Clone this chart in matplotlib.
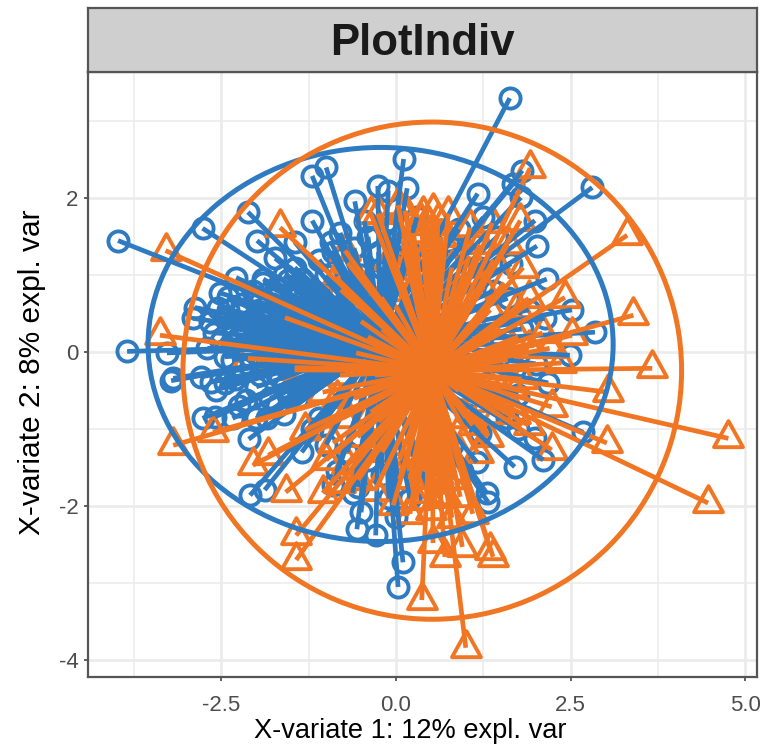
import matplotlib
matplotlib.use("Agg")
import matplotlib.pyplot as plt
from matplotlib.patches import Ellipse
from matplotlib.markers import MarkerStyle
from matplotlib.path import Path

plt.rcParams['font.family'] = ['Liberation Sans', 'DejaVu Sans']

title = "PlotIndiv"
x_label = "X-variate 1: 12% expl. var"
y_label = "X-variate 2: 8% expl. var"

x_ticks = [-2.5, 0, 2.5, 5]
x_tick_labels = ["-2.5", "0.0", "2.5", "5.0"]
x_minor = [-3.75, -1.25, 1.25, 3.75]
y_ticks = [-4, -2, 0, 2]
y_tick_labels = ["-4", "-2", "0", "2"]
y_minor = [-3, -1, 1, 3]

blue_center = (-0.22, 0.10)
blue_radii = (3.33, 2.56)
orange_center = (0.52, -0.24)
orange_radii = (3.57, 3.23)

blue_pts = [
    (1.63, 3.30), (-3.98, 1.45), (-3.85, 0.01), (0.11, 2.51), (-1.00, 2.40), (-1.20, 2.29),
    (-0.59, 1.96), (-0.26, 2.16), (-0.11, 2.10), (0.16, 2.13), (-2.77, 1.61), (-2.12, 1.82),
    (-1.99, 1.45), (-1.20, 1.71), (1.17, 2.06), (2.81, 2.14), (1.81, 2.36), (1.68, 2.19),
    (1.79, 2.01), (1.99, 1.71), (2.02, 1.38), (2.16, 0.95), (2.85, 0.26), (2.52, 0.55),
    (2.13, 0.44), (2.49, -0.04), (1.70, -1.49), (2.11, -1.40), (1.99, -1.12), (2.68, -1.04),
    (1.30, -1.83), (1.32, -1.95), (1.16, -1.43), (1.59, -0.86), (2.18, -0.40), (0.03, -3.05),
    (0.10, -2.73), (-0.29, -2.38), (-0.56, -2.30), (-0.50, -2.08), (0.0, -2.14), (-0.62, -1.83),
    (0.03, -1.70), (-0.90, -1.73), (-2.09, -1.86), (-1.88, -1.79), (-2.11, -1.13), (-2.77, -0.86),
    (-2.59, -0.84), (-2.34, -0.86), (-2.00, -0.86), (-3.19, -0.34), (-3.22, -0.37), (-2.79, -0.32),
    (-2.58, -0.49), (-2.65, -0.39), (-3.28, -0.01), (-2.45, -0.06), (-2.88, 0.58), (-2.91, 0.44),
    (-2.66, 0.39), (-2.29, 0.97), (-2.52, 0.77), (-1.91, 0.90), (-2.26, 0.19), (-1.73, 1.22),
    (-1.45, 1.43), (-0.93, 1.43), (-2.40, 0.72), (-2.20, 0.62), (-2.05, 0.80), (-1.85, 0.60),
    (-1.70, 0.85), (-1.60, 1.00), (-1.50, 0.70), (-1.35, 0.95), (-1.20, 0.80), (-2.10, 0.40),
    (-1.90, 0.30), (-1.70, 0.40), (-1.50, 0.30), (-2.30, 0.30), (-2.00, 0.15), (-1.80, 0.10),
    (-1.60, 0.15), (-1.30, 0.45), (-1.10, 0.60), (-1.00, 1.00), (-0.90, 1.30), (-0.75, 1.10),
    (-0.60, 1.35), (-0.50, 1.00), (-0.40, 1.50), (-0.25, 1.30), (-0.10, 1.60), (0.05, 1.50),
    (0.20, 1.30), (0.40, 1.20), (0.60, 1.20), (0.90, 1.60), (1.00, 1.30), (1.20, 1.10),
    (1.40, 0.80), (1.60, 0.70), (1.80, 0.30), (1.50, 0.10), (1.70, -0.20), (1.30, -0.40),
    (1.50, -0.70), (1.00, -0.80), (0.80, -1.20), (0.60, -1.40), (0.30, -1.50), (0.20, -1.90),
    (-0.20, -1.60), (-0.40, -1.40), (-0.70, -1.30), (-1.00, -1.20), (-1.20, -1.00), (-1.35, -1.30),
    (-1.60, -0.80), (-1.80, -0.60), (-2.00, -0.45), (-1.40, -0.60), (-1.10, -0.30), (-2.20, -0.20),
    (-1.70, -0.30), (-1.30, -0.10), (-2.70, 0.05), (-2.50, 0.15), (-1.55, 0.94), (-1.75, 0.75),
    (-2.45, 0.45), (-2.25, 0.50), (-2.15, 0.25), (-1.95, 0.48), (-1.80, 0.45), (-2.55, 0.58),
    (-2.35, -0.10), (-2.10, -0.05), (-1.90, -0.12), (-2.15, -0.62), (-1.85, -0.85), (-1.55, -0.55),
    (-1.65, -0.10), (-1.50, 0.05), (-1.25, 0.20), (-1.15, 0.35), (-1.05, 0.15), (-0.85, 0.75),
    (-0.65, 0.85), (-0.35, 0.95), (-0.20, 1.10), (0.00, 1.05), (-1.45, 1.10), (-1.10, 1.20),
    (-0.80, 1.55), (-0.45, 1.70), (0.30, 1.75), (0.75, 1.45), (1.45, 1.50), (1.25, 1.75),
    (1.65, 1.15), (-0.85, -1.55), (-1.10, -0.85), (-0.55, -1.75), (-0.10, -1.90), (0.45, -1.75),
    (0.95, -1.55), (1.20, -1.05), (1.75, -0.55), (2.00, -0.15), (1.90, 0.55), (1.75, -1.00),
    (-2.60, 0.25), (-2.40, 0.55), (-2.20, 0.35), (-2.35, 0.10), (-1.95, 0.65), (-1.65, 0.60),
    (-1.40, 0.55), (-1.90, 0.95), (-1.45, 0.80), (-1.30, 0.70), (-2.30, -0.35), (-1.95, -0.30),
    (-1.60, -0.45), (-2.45, -0.40), (-2.25, -0.70), (-1.70, -0.70),
]

orange_pts = [
    (1.92, 2.39), (3.31, 1.52), (3.40, 0.48), (3.67, -0.21), (0.53, 1.84), (0.39, 1.80),
    (1.06, 1.62), (1.38, 1.68), (1.78, 1.71), (1.82, 1.10), (2.42, 0.71), (2.52, 0.22),
    (1.73, 0.58), (2.37, -0.14), (4.76, -1.12), (4.47, -1.96), (3.02, -1.18), (3.04, -0.52),
    (2.23, -0.71), (2.23, -1.27), (1.32, -1.10), (1.17, -1.31), (1.39, -2.66), (1.35, -2.57),
    (0.95, -2.53), (0.70, -2.66), (0.53, -2.48), (1.00, -3.84), (0.37, -3.22), (0.92, -1.88),
    (0.44, -1.83), (-3.19, -1.21), (-2.62, -1.04), (-2.05, -1.47), (-1.83, -1.34), (-1.58, -1.82),
    (-1.05, -1.83), (-1.43, -2.38), (-1.43, -2.70), (-1.30, -1.01), (-0.90, -1.18), (-0.04, -1.99),
    (0.29, -1.92), (-3.30, 1.32), (-3.38, 0.22), (-1.66, 1.62), (-0.36, 1.80), (0.13, 1.84),
    (0.36, 1.71), (-0.73, 1.32), (-0.86, 0.97), (-1.59, 0.45), (-0.57, -0.01), (-2.12, -0.08),
    (-1.45, -0.23), (-0.21, 0.71), (-0.69, 1.16), (-0.79, 0.81), (-0.26, 1.80), (0.03, 1.91),
    (-1.05, -0.52), (-1.45, -0.20), (-0.36, -0.78), (-0.54, -1.66), (0.10, 1.40), (0.25, 1.55),
    (0.45, 1.30), (0.65, 1.50), (0.80, 1.10), (1.00, 1.00), (1.20, 1.40), (1.40, 1.20),
    (1.55, 0.90), (1.60, 1.40), (1.90, 0.70), (2.10, 0.25), (1.90, 0.05), (2.20, 0.05),
    (1.60, -0.10), (1.80, -0.35), (1.50, -0.50), (1.70, -0.80), (1.90, -0.95), (1.45, -0.80),
    (1.00, -0.85), (0.90, -1.30), (0.70, -1.05), (0.60, -1.60), (0.35, -1.30), (0.15, -1.20),
    (0.05, -1.65), (-0.20, -1.30), (-0.30, -1.80), (-0.70, -1.45), (-0.80, -1.70), (-1.00, -1.40),
    (-0.60, -0.60), (-0.80, -0.30), (-0.30, -0.30), (-0.40, 0.20), (-0.10, 0.50), (0.10, 0.80),
    (0.30, 0.60), (0.70, 0.60), (1.10, 0.40), (1.20, -0.20), (0.90, -0.50), (0.40, -0.80),
    (0.75, 1.80), (0.20, -2.10), (0.80, -2.15), (1.10, -2.10), (0.62, -1.90), (0.10, -0.50),
    (0.05, 1.00), (0.20, 1.20), (0.32, 0.95), (0.55, 1.05), (0.48, 1.65), (0.60, 1.70),
    (-0.10, 1.20), (0.00, 0.60), (1.05, 1.25), (1.25, 0.85), (1.35, 0.55), (1.50, 0.30),
    (1.75, 0.20), (1.65, -0.45), (1.30, -0.65), (1.10, -0.95), (0.85, -1.65), (0.70, -1.85),
    (0.50, -2.05), (0.40, -1.55), (0.20, -1.65), (0.05, -1.40), (-0.10, -1.05), (-0.55, -1.10),
    (-0.75, -0.85), (-0.25, -0.90), (-0.85, -0.60), (-0.30, 0.05), (-0.50, 0.40), (-0.20, 0.30),
]

blue = "#2F7BC1"
orange = "#F17623"
grid_col = "#EBEBEB"
frame_col = "#555555"

# triangle with its centre of mass on the data point, like ggplot's shape 2
tri = MarkerStyle(Path([(0, 1.2), (-1, -0.6), (1, -0.6), (0, 1.2)], closed=True), joinstyle="miter")

W, H = 762, 750
fig = plt.figure(figsize=(W / 100, H / 100), dpi=100)
ax = fig.add_axes([88 / W, 1 - 677 / H, (757 - 88) / W, (677 - 72) / H])
strip = fig.add_axes([88 / W, 1 - 72 / H, (757 - 88) / W, (72 - 8) / H])

ax.set_xlim(-4.41, 5.17)
ax.set_ylim(-4.22, 3.64)
ax.set_xticks(x_ticks)
ax.set_xticklabels(x_tick_labels)
ax.set_yticks(y_ticks)
ax.set_yticklabels(y_tick_labels)
ax.set_xticks(x_minor, minor=True)
ax.set_yticks(y_minor, minor=True)
ax.grid(True, which="major", color=grid_col, lw=1.9)
ax.grid(True, which="minor", color=grid_col, lw=1.1)
ax.set_axisbelow(True)
ax.tick_params(axis="both", which="minor", length=0)
ax.tick_params(axis="x", which="major", length=3, width=1.2, color="#444444",
               labelsize=16, labelcolor="#4D4D4D", pad=10)
ax.tick_params(axis="y", which="major", length=3, width=1.2, color="#444444",
               labelsize=16, labelcolor="#4D4D4D", pad=4)
fig.text(410 / W, 1 - 731 / H, x_label, fontsize=19.6, color="black", ha="center", va="center")
fig.text(32 / W, 1 - 372 / H, y_label, fontsize=21.5, color="black", ha="center", va="center",
         rotation=90)
for s in ax.spines.values():
    s.set_color(frame_col)
    s.set_linewidth(1.6)

# markers first, the star segments go over them
ax.plot([p[0] for p in blue_pts], [p[1] for p in blue_pts], ls="none", marker="o", ms=14.5,
        mfc="none", mec=blue, mew=2.8, zorder=2)
ax.plot([p[0] for p in orange_pts], [p[1] for p in orange_pts], ls="none", marker=tri, ms=25,
        mfc="none", mec=orange, mew=2.8, zorder=2)

for p in blue_pts:
    ax.plot([blue_center[0], p[0]], [blue_center[1], p[1]], color=blue, lw=3.4,
            solid_capstyle="butt", zorder=3)
for p in orange_pts:
    ax.plot([orange_center[0], p[0]], [orange_center[1], p[1]], color=orange, lw=3.4,
            solid_capstyle="butt", zorder=4)

ax.add_patch(Ellipse(blue_center, 2 * blue_radii[0], 2 * blue_radii[1], fill=False,
                     ec=blue, lw=3.6, zorder=5))
ax.add_patch(Ellipse(orange_center, 2 * orange_radii[0], 2 * orange_radii[1], fill=False,
                     ec=orange, lw=3.6, zorder=6))

strip.set_facecolor("#CFCFCF")
strip.set_xticks([])
strip.set_yticks([])
for s in strip.spines.values():
    s.set_color(frame_col)
    s.set_linewidth(1.6)
strip.text(0.5, 0.44, title, transform=strip.transAxes, ha="center", va="center",
           fontsize=31.5, fontweight="bold", color="#1A1A1A")

fig.savefig("out.png", dpi=100)
